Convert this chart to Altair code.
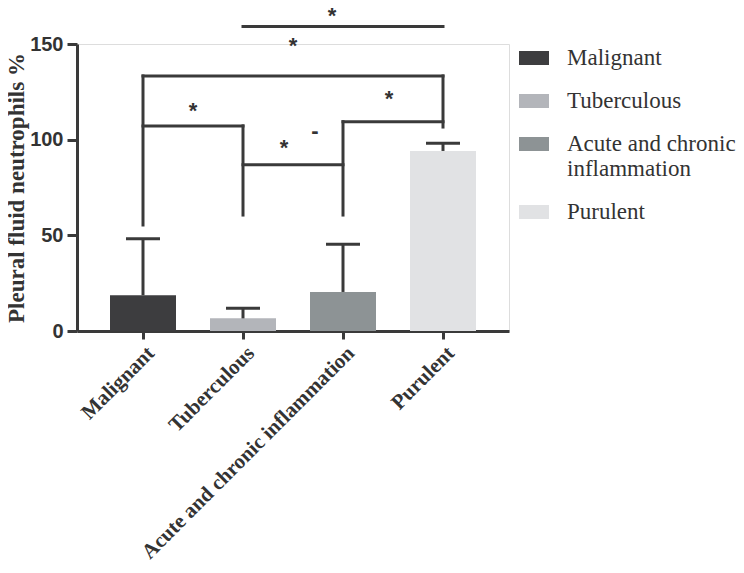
import json
import altair as alt
import pandas as pd

# ---- data ----
categories = ["Malignant", "Tuberculous", "Acute and chronic inflammation", "Purulent"]
means = [18.7, 6.6, 20.4, 94.1]
upper = [48.2, 11.9, 45.3, 98.1]
colors = ["#3d3d3f", "#b3b5ba", "#8d9395", "#e1e2e4"]

# significance brackets: horizontal segments (from group index, to group index, level)
h_from = [1, 0, 0, 1, 2]
h_to = [3, 3, 1, 2, 3]
h_level = [159.1, 133.3, 107.2, 86.9, 109.4]
# vertical legs (group index, bottom, top)
v_group = [0, 1, 2, 3]
v_bottom = [55.4, 60.6, 60.6, 106.6]
v_top = [133.3, 107.2, 109.4, 133.3]
# significance marks (position in group units, value level, text)
sig_x = [1.89, 1.5, 0.5, 1.41, 2.46, 1.72]
sig_y = [161.0, 145.1, 111.2, 92.0, 117.8, 101.0]
sig_text = ["*", "*", "*", "*", "*", "-"]

y_title = "Pleural fluid neutrophils %"
y_ticks = [0, 50, 100, 150]

# ---- tables ----
bars_df = pd.DataFrame({
    "category": categories,
    "pos": list(range(len(categories))),
    "mean": means,
    "upper": upper,
})
h_df = pd.DataFrame({"x1": h_from, "x2": h_to, "y": h_level})
v_df = pd.DataFrame({"x": v_group, "y1": v_bottom, "y2": v_top})
sig_df = pd.DataFrame({"x": sig_x, "y": sig_y, "t": sig_text})

INK = "#3a3a3a"
x_scale = alt.Scale(domain=[-0.66, 3.66], nice=False, zero=False)
y_scale = alt.Scale(domain=[0, 150], nice=False)

x_label_expr = json.dumps(categories) + "[datum.value]"
multi = categories[2]
leg_label_expr = ("datum.label == '" + multi + "' ? "
                  "['Acute and chronic', '\u00a0inflammation'] : datum.label")

x_axis = alt.Axis(values=list(range(len(categories))), labelExpr=x_label_expr,
                  title=None, grid=False, labelAngle=-45, labelFont="Liberation Serif",
                  labelFontWeight="bold", labelFontSize=21, labelColor="#333333",
                  labelPadding=3, labelLimit=500, tickSize=8, tickWidth=3, tickColor=INK,
                  domainWidth=3, domainColor=INK, labelOverlap=False)
y_axis = alt.Axis(values=y_ticks, title=y_title, grid=False,
                  labelFont="Liberation Sans", labelFontWeight="bold", labelFontSize=20,
                  labelColor="#333333", labelPadding=4, tickSize=10, tickWidth=3,
                  tickColor=INK, domainWidth=3, domainColor=INK,
                  titleFont="Liberation Serif", titleFontWeight="bold", titleFontSize=23,
                  titleColor="#333333", titlePadding=1)


def X(field):
    return alt.X(field, scale=x_scale, axis=x_axis, title=None)


def Y(field):
    return alt.Y(field, scale=y_scale, axis=y_axis, title=y_title)


bars = alt.Chart(bars_df).transform_calculate(
    x0="datum.pos - 0.33", x1="datum.pos + 0.33", base="0"
).mark_rect().encode(
    x=X("x0:Q"),
    x2="x1:Q",
    y=Y("mean:Q"),
    y2="base:Q",
    color=alt.Color("category:N", scale=alt.Scale(domain=categories, range=colors),
                    legend=alt.Legend(orient="none", legendX=442, legendY=-1, title=None,
                                      symbolType="M-1,-0.467L1,-0.467L1,0.467L-1,0.467Z",
                                      symbolSize=900, symbolStrokeWidth=0,
                                      labelFont="Liberation Serif", labelFontSize=23,
                                      labelColor="#333333", labelOffset=18, rowPadding=16,
                                      labelLimit=400, padding=0, labelExpr=leg_label_expr)),
)

err_line = alt.Chart(bars_df).mark_rule(color=INK, strokeWidth=3).encode(
    x=X("pos:Q"),
    y=Y("mean:Q"),
    y2="upper:Q",
)

err_cap = alt.Chart(bars_df).transform_calculate(
    c0="datum.pos - 0.17", c1="datum.pos + 0.17"
).mark_rule(color=INK, strokeWidth=3).encode(
    x=X("c0:Q"),
    x2="c1:Q",
    y=Y("upper:Q"),
)

h_rules = alt.Chart(h_df).mark_rule(color=INK, strokeWidth=3, strokeCap="square").encode(
    x=X("x1:Q"),
    x2="x2:Q",
    y=Y("y:Q"),
)

v_rules = alt.Chart(v_df).mark_rule(color=INK, strokeWidth=3, strokeCap="square").encode(
    x=X("x:Q"),
    y=Y("y1:Q"),
    y2="y2:Q",
)

sig = alt.Chart(sig_df).mark_text(font="Liberation Sans", fontSize=22, fontWeight="bold",
                                   baseline="alphabetic", align="center",
                                   color="#333333").encode(
    x=X("x:Q"),
    y=Y("y:Q"),
    text="t:N",
)

chart = alt.layer(bars, err_line, err_cap, h_rules, v_rules, sig).properties(
    width=432, height=287,
    autosize=alt.AutoSizeParams(type="none"),
    padding={"left": 69, "top": 36, "right": 227, "bottom": 234},
).configure_view(stroke=None).configure(background="white")

chart.save("out.html", embed_options={"renderer": "svg", "actions": False})
